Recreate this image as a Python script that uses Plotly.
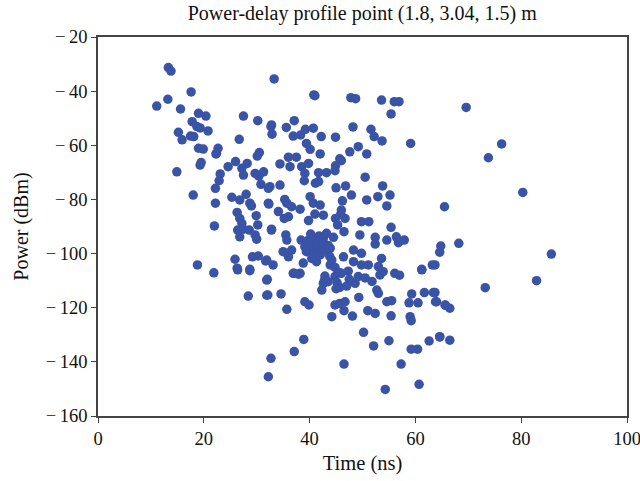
import plotly.graph_objects as go

time_ns = [
    13.3, 13.8, 33.3, 11.1, 13.2, 17.6, 15.6, 19.0, 20.4, 17.8, 18.7, 19.3, 20.8, 15.2, 15.9, 17.5, 18.1,
    26.7, 27.5, 30.2, 32.8, 32.9, 19.0, 19.9, 22.7, 22.3, 30.5, 30.1,
    40.8, 41.0, 47.8, 48.7, 53.6, 56.0, 56.9, 55.4, 32.7, 37.1, 35.6, 36.9, 38.3, 39.2, 40.7, 42.2, 44.9,
    48.2, 51.6, 52.2, 53.7, 59.1, 39.4, 40.1, 42.0, 47.6, 49.2, 50.8, 45.7, 36.0, 37.5,
    69.6, 76.3, 73.8, 80.3, 65.5, 64.8, 68.2, 64.6, 85.7, 63.7, 82.9,
    73.2, 63.7, 64.0, 65.7, 66.5, 64.6, 66.5,
    31.9, 32.1, 34.6, 35.7, 39.1, 39.9, 37.1, 38.2, 42.6, 42.3, 43.5, 44.8, 46.0, 45.7, 44.8, 45.7, 46.7,
    46.5, 44.2, 48.1, 48.6, 49.2, 49.3, 51.0, 52.4, 52.7, 53.0, 53.3, 56.1, 54.6, 55.5, 55.4, 59.0, 59.2,
    58.8, 59.3, 60.5, 61.7, 63.4, 63.8, 65.6, 61.2, 50.2, 52.1, 55.0, 46.5, 38.9, 37.1, 32.7, 32.2, 57.3,
    59.2, 60.4, 62.6, 64.6, 60.7, 54.3,
    21.9, 26.4, 28.7, 32.0, 28.4, 31.9,
    14.9, 19.3, 19.5, 22.4, 24.6, 26.0, 27.2, 28.2, 27.5, 23.1, 22.9, 22.2, 29.7, 30.4, 31.3, 30.8, 32.2,
    18.0, 22.2, 25.3, 26.8, 28.0, 28.7, 29.0, 32.3, 26.3, 26.8, 27.2, 29.9, 30.2, 26.4, 27.5, 28.6, 26.8,
    29.7, 30.0, 32.8, 22.0, 25.9, 29.2, 30.3, 31.7, 33.1, 18.8, 26.3, 28.7,
    34.4, 36.3, 38.5, 39.8, 39.1, 39.0, 41.7, 43.2, 44.8, 46.0, 44.9, 50.5, 41.1, 41.7, 32.5, 34.4, 45.0,
    46.8, 47.9, 46.2, 50.8, 52.9, 53.8, 55.2, 54.6, 35.3, 35.7, 36.6, 38.2, 40.1, 40.7, 42.0, 41.0, 42.6,
    39.8, 46.0, 45.9, 44.9, 45.3, 46.7, 46.5, 32.2, 34.1, 35.2, 36.0, 32.8, 35.5, 35.7, 49.8, 51.2, 55.4,
    49.5, 52.4, 52.4, 54.6, 56.4, 57.9, 56.8,
    38.4, 39.8, 41.0, 42.6, 43.2, 44.5, 39.1, 40.4, 41.6, 42.9, 43.9, 39.4, 41.0, 42.3, 40.4, 41.3, 44.2,
    35.0, 36.6, 36.0, 31.9, 36.9, 37.9, 42.9, 43.9, 44.8, 45.7, 46.4, 48.3, 49.8, 48.3, 49.8, 51.1, 53.6,
    53.0, 53.9, 61.2, 63.2,
    40.0, 41.5, 42.5, 43.5, 40.8, 42.0, 43.0, 41.8, 40.2, 43.8, 38.8, 42.8, 45.2, 47.5, 47.0, 50.5, 51.8,
    57.0, 45.0, 47.3
]

power_dbm = [
    -31.3, -32.6, -35.5, -45.5, -43.0, -40.3, -46.6, -48.2, -49.2, -51.3, -53.1, -53.6, -54.7, -55.2, -58.0, -56.6, -56.8,
    -57.8, -49.2, -50.9, -52.5, -55.9, -61.1, -61.4, -61.1, -63.2, -62.7, -64.0,
    -41.4, -41.7, -42.4, -42.8, -43.3, -43.9, -43.9, -48.4, -53.1, -50.9, -53.4, -56.6, -56.2, -54.1, -53.7, -56.8, -57.0,
    -53.2, -54.1, -56.8, -58.4, -59.3, -59.3, -61.5, -63.2, -62.4, -60.5, -63.2, -65.0, -64.4, -64.4,
    -46.0, -59.5, -64.6, -77.4, -82.7, -97.2, -96.2, -99.5, -100.2, -104.2, -110.0,
    -112.6, -114.4, -117.8, -119.1, -120.2, -130.8, -132.0,
    -109.8, -115.3, -114.9, -120.6, -117.8, -119.0, -107.3, -107.3, -111.0, -113.5, -110.4, -108.5, -107.3, -112.5, -119.0, -118.4, -117.8,
    -121.1, -123.3, -123.1, -111.0, -108.5, -116.2, -121.1, -122.1, -113.5, -114.7, -107.9, -107.3, -117.8, -117.4, -123.0, -123.3, -124.8,
    -118.2, -114.9, -118.2, -114.4, -114.4, -117.8, -119.0, -106.0, -129.1, -134.1, -132.2, -140.8, -131.7, -136.2, -138.7, -145.5, -140.8,
    -135.3, -135.3, -132.3, -130.7, -148.3, -150.2,
    -107.1, -106.0, -106.3, -109.5, -115.7, -115.4,
    -69.8, -67.3, -66.4, -63.0, -67.9, -66.0, -68.5, -66.7, -71.0, -70.6, -73.1, -75.9, -70.4, -71.4, -69.8, -74.4, -75.9,
    -78.4, -81.4, -79.2, -80.2, -78.1, -81.4, -82.4, -81.7, -84.8, -87.0, -88.8, -86.0, -89.4, -91.3, -91.0, -91.3, -93.8,
    -93.1, -94.7, -91.3, -89.8, -102.1, -101.2, -100.9, -102.7, -104.2, -104.2, -105.4, -105.8,
    -66.9, -67.9, -67.9, -66.7, -70.4, -73.1, -70.1, -70.1, -69.4, -65.7, -67.6, -71.8, -74.0, -73.4, -75.3, -74.7, -75.7,
    -75.0, -78.4, -80.5, -80.2, -79.0, -75.0, -78.4, -82.4, -80.0, -81.4, -82.7, -83.6, -79.0, -81.4, -82.1, -85.4, -85.8,
    -87.8, -83.9, -85.4, -87.0, -89.4, -87.0, -91.9, -81.4, -84.5, -87.0, -86.4, -91.0, -93.1, -95.0, -88.2, -88.2, -90.3,
    -93.1, -94.0, -96.5, -95.0, -93.8, -95.0, -96.0,
    -95.0, -95.0, -94.7, -94.4, -92.5, -94.0, -97.5, -97.5, -97.5, -96.8, -98.0, -99.3, -99.9, -99.3, -101.8, -103.0, -102.4,
    -99.3, -98.7, -101.2, -102.4, -107.3, -107.6, -108.3, -104.2, -105.1, -107.1, -101.2, -98.7, -99.9, -103.0, -104.2, -104.2, -101.8,
    -104.8, -106.7, -105.8, -104.2,
    -96.0, -96.3, -95.8, -97.0, -100.8, -100.5, -98.8, -93.5, -92.8, -101.0, -103.5, -110.0, -110.8, -109.5, -112.0, -109.0, -110.3,
    -108.0, -113.0, -106.5
]

x_tick_vals = [0, 20, 40, 60, 80, 100]
y_tick_vals = [-20, -40, -60, -80, -100, -120, -140, -160]
y_tick_text = ["\u2212\u2009" + str(abs(v)) for v in y_tick_vals]

FONT = "Liberation Serif"

fig = go.Figure(go.Scatter(
    x=time_ns, y=power_dbm, mode="markers",
    marker=dict(size=9.5, color="#3953a6", line=dict(width=0)),
    hoverinfo="skip"
))

axis_common = dict(
    showgrid=False, zeroline=False, showline=True, linecolor="#444", linewidth=1.5,
    mirror=True, ticks="outside", ticklen=5, tickwidth=1.2, tickcolor="#444",
    tickfont=dict(family=FONT, size=18.5, color="#111"),
    automargin=False, ticklabeloverflow="allow",
)

fig.update_layout(
    width=640, height=481,
    margin=dict(l=98, r=13, t=37, b=65),
    paper_bgcolor="white", plot_bgcolor="white",
    showlegend=False,
    title=dict(text="Power-delay profile point (1.8, 3.04, 1.5) m", x=0.566, xanchor="center",
               y=0.972, yanchor="middle",
               font=dict(family=FONT, size=20, color="#111")),
    xaxis=dict(range=[0, 100], tickmode="array", tickvals=x_tick_vals,
               title=dict(text="Time (ns)", standoff=8, font=dict(family=FONT, size=20.5, color="#111")),
               **axis_common),
    yaxis=dict(range=[-160, -20], tickmode="array", tickvals=y_tick_vals, ticktext=y_tick_text,
               title=dict(text="Power (dBm)", standoff=12, font=dict(family=FONT, size=20, color="#111")),
               **axis_common),
)

fig.write_html("out.html")
